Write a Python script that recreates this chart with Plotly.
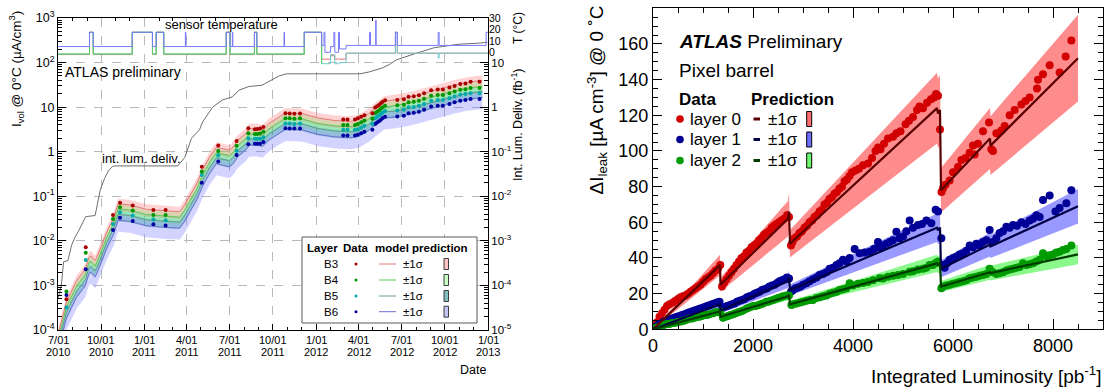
import pandas as pd
import plotly.graph_objects as go

W, H = 1108, 390
FONT = "Liberation Sans, Arial, Helvetica, sans-serif"


def px(x):
    return x / W


def py(y):
    return 1 - y / H


# ---------------- LEFT PANEL DATA ----------------
L_MODEL_DATES = ["2010-07-01", "2010-07-19", "2010-08-10", "2010-08-28", "2010-09-05", "2010-09-09",
                 "2010-09-18", "2010-09-26", "2010-10-13", "2010-10-27", "2010-11-06", "2010-11-30",
                 "2011-01-05", "2011-02-15", "2011-03-17", "2011-03-28", "2011-04-11", "2011-04-22",
                 "2011-05-06", "2011-05-20", "2011-06-03", "2011-06-20", "2011-07-01", "2011-07-11",
                 "2011-07-18", "2011-08-05", "2011-08-12", "2011-08-28", "2011-09-09", "2011-09-23",
                 "2011-10-14", "2011-10-28", "2011-12-02", "2012-01-05", "2012-02-10", "2012-03-15",
                 "2012-04-01", "2012-04-22", "2012-05-05", "2012-05-25", "2012-06-15", "2012-07-21",
                 "2012-08-18", "2012-09-22", "2012-10-20", "2012-11-17", "2012-12-20"]
B3_MODEL = [8e-5, 4.3e-4, 1.3e-3, 2.3e-3, 4.3e-3, 4.6e-3, 3.6e-3, 5.5e-3, 0.016, 0.032, 0.068, 0.064,
            0.051, 0.047, 0.045, 0.065, 0.12, 0.19, 0.42, 0.77, 1.25, 1.15, 1.08, 1.35, 1.8, 2.6, 3.3,
            3.3, 3.1, 4.3, 6.1, 7.4, 7.2, 5.7, 5.0, 4.8, 5.2, 7.2, 9.4, 13.5, 14.5, 17, 20.5, 26, 31, 36, 40]
B4_MODEL = [6.1e-5, 3.3e-4, 9.9e-4, 1.75e-3, 3.3e-3, 3.5e-3, 2.7e-3, 4.2e-3, 0.0122, 0.0243, 0.052, 0.049,
            0.039, 0.036, 0.034, 0.049, 0.091, 0.144, 0.32, 0.585, 0.95, 0.87, 0.82, 1.03, 1.37, 1.98, 2.5,
            2.5, 2.36, 3.27, 4.64, 5.6, 5.47, 4.33, 3.8, 3.65, 3.95, 5.4, 7.0, 10.0, 10.8, 12.6, 15.2, 19.2,
            23, 26.6, 29.6]
B5_MODEL = [4.6e-5, 2.5e-4, 7.5e-4, 1.33e-3, 2.5e-3, 2.67e-3, 2.1e-3, 3.2e-3, 9.3e-3, 0.0186, 0.039, 0.037,
            0.0296, 0.0273, 0.026, 0.0377, 0.07, 0.11, 0.244, 0.45, 0.725, 0.667, 0.626, 0.78, 1.04, 1.5,
            1.91, 1.91, 1.8, 2.5, 3.54, 4.3, 4.18, 3.3, 2.9, 2.78, 3.0, 4.1, 5.3, 7.8, 8.1, 9.5, 11.4, 14.4,
            17.3, 20.2, 22.4]
B6_MODEL = [3.4e-5, 1.85e-4, 5.6e-4, 9.9e-4, 1.85e-3, 1.98e-3, 1.55e-3, 2.4e-3, 6.9e-3, 0.0138, 0.029,
            0.0275, 0.022, 0.020, 0.0194, 0.028, 0.052, 0.082, 0.18, 0.33, 0.54, 0.49, 0.46, 0.58, 0.77,
            1.12, 1.42, 1.42, 1.33, 1.85, 2.62, 3.18, 3.1, 2.45, 2.15, 2.06, 2.24, 3.0, 3.9, 5.7, 6.0, 7.0,
            8.5, 10.8, 12.9, 15.0, 16.6]
# relative +-1 sigma of the model prediction, per layer
B3_SIG, B4_SIG, B5_SIG, B6_SIG = 0.30, 0.28, 0.30, 0.45

L_DATA_DATES = ["2010-07-19", "2010-08-29", "2010-10-26", "2010-11-10", "2010-12-07", "2011-01-20",
                "2011-02-15", "2011-05-03", "2011-06-07", "2011-07-16", "2011-08-10", "2011-08-24",
                "2011-08-29", "2011-09-04", "2011-09-11", "2011-10-28", "2011-11-06", "2011-11-16",
                "2011-11-28", "2012-02-28", "2012-03-08", "2012-03-24", "2012-03-30", "2012-04-06",
                "2012-04-13", "2012-04-30", "2012-05-06", "2012-05-10", "2012-05-14", "2012-05-18",
                "2012-05-22", "2012-05-27", "2012-06-22", "2012-07-06", "2012-07-16", "2012-07-27",
                "2012-08-07", "2012-08-18", "2012-09-02", "2012-09-16", "2012-09-27", "2012-10-11",
                "2012-10-22", "2012-11-03", "2012-11-14", "2012-11-25", "2012-12-14"]
B3_DATA = [4.9e-4, 7.2e-3, 0.038, 0.072, 0.062, 0.049, 0.049, 0.46, 1.37, 1.74, 3.35, 3.2, 3.25, 3.3, 3.6,
           7.3, 7.2, 7.1, 7.2, 5.3, 5.3, 5.3, 5.6, 6.1, 6.6, 7.3, 9.8, 10.5, 11.2, 12.2, 13.2, 14.2, 14.5,
           15.0, 17.0, 17.5, 18.5, 20.4, 24.0, 25.0, 25.0, 27.5, 30.0, 33.0, 34.0, 37.0, 37.0]
B4_DATA = [7.3e-4, 5.4e-3, 0.031, 0.0565, 0.048, 0.038, 0.038, 0.36, 1.04, 1.36, 2.6, 2.5, 2.5, 2.55, 2.8,
           5.6, 5.6, 5.5, 5.6, 4.0, 4.0, 4.0, 4.2, 4.6, 5.0, 5.5, 7.4, 7.9, 8.4, 9.2, 10.0, 10.7, 11.0, 11.3,
           12.8, 13.2, 14.0, 15.4, 18.0, 18.8, 18.8, 20.5, 22.3, 24.5, 25.2, 27.0, 27.0]
B5_DATA = [3.2e-4, 3.7e-3, 0.024, 0.0436, 0.037, 0.030, 0.029, 0.30, 0.83, 1.05, 2.0, 1.95, 1.95, 1.95, 2.1,
           4.3, 4.3, 4.2, 4.3, 3.1, 3.1, 3.1, 3.2, 3.5, 3.8, 4.2, 5.7, 6.1, 6.5, 7.0, 7.6, 8.2, 8.4, 8.7, 9.9,
           10.1, 10.7, 11.8, 13.9, 14.5, 14.5, 15.9, 17.3, 19.0, 19.6, 20.4, 20.4]
B6_DATA = [6.1e-4, 2.3e-3, 0.0175, 0.033, 0.028, 0.0236, 0.022, 0.20, 0.60, 0.84, 1.47, 1.5, 1.5, 1.5, 1.65,
           3.35, 3.3, 3.3, 3.3, 2.3, 2.3, 2.3, 2.4, 2.6, 2.8, 3.1, 4.2, 4.5, 4.8, 5.2, 5.7, 6.1, 6.2, 6.4, 7.3,
           7.5, 7.9, 8.7, 10.3, 10.7, 10.7, 11.8, 12.8, 14.0, 14.4, 15.2, 15.2]

LUMI_DATES = ["2010-07-01", "2010-07-08", "2010-07-13", "2010-07-22", "2010-07-30", "2010-08-06",
              "2010-08-13", "2010-08-22", "2010-08-29", "2010-09-18", "2010-09-24", "2010-09-29",
              "2010-10-08", "2010-10-16", "2010-10-25", "2010-10-31", "2011-03-13", "2011-03-28",
              "2011-04-11", "2011-04-28", "2011-05-05", "2011-05-26", "2011-06-16", "2011-07-07",
              "2011-07-21", "2011-08-11", "2011-09-08", "2011-09-29", "2011-10-14", "2011-10-30",
              "2012-04-04", "2012-04-24", "2012-05-20", "2012-06-05", "2012-06-20", "2012-07-27",
              "2012-09-08", "2012-10-10", "2012-11-03", "2012-12-08", "2012-12-31"]
LUMI_FB = [5e-5, 1e-4, 3.4e-4, 3.6e-4, 8e-4, 1.2e-3, 1.6e-3, 2.5e-3, 3.5e-3, 3.7e-3, 7e-3, 0.014, 0.025,
           0.037, 0.047, 0.048, 0.048, 0.075, 0.2, 0.31, 0.47, 1.0, 1.45, 1.7, 2.4, 2.9, 3.1, 4.1, 5.0, 5.6,
           5.6, 6.2, 7.5, 9, 11.5, 15.5, 21.5, 24, 26, 27, 28.5]

T_DATES = ["2010-07-01", "2010-09-06", "2010-09-14", "2010-12-06", "2011-01-18", "2011-01-26",
           "2011-02-11", "2011-03-29", "2011-03-30", "2011-06-24", "2011-07-02", "2011-07-07",
           "2011-07-08", "2011-08-23", "2011-08-28", "2011-10-25", "2011-10-26", "2011-12-07",
           "2012-01-13", "2012-01-18", "2012-01-20", "2012-02-01", "2012-02-08", "2012-02-10",
           "2012-02-18", "2012-02-20", "2012-03-05", "2012-04-24", "2012-04-26", "2012-05-07",
           "2012-05-08", "2012-06-18", "2012-06-22", "2012-09-17", "2012-09-19", "2012-12-28",
           "2013-01-01"]
T_B6 = [5, 17.5, 5, 17.5, 5, 17.5, 5, 17.5, 5, 17.5, 5, 17.5, 5, 17.5, 5, 17.5, 5, 17.5, 6, 17.5, 0, 5,
        17.5, 0, 17.5, 3, 6, 17.5, 6, 28, 6, 17.5, 6, 17.5, 6, 17.5, 17.5]
T_B3 = [-2, 17.5, -2, 17.5, -2, 17.5, -2, -2, -2, 17.5, -2, -2, -2, 17.5, -2, -2, -2, 17.5, -6, -6, -6, -3,
        -3, -6, -6, -6, -0.8, -0.8, -0.8, -0.8, -0.8, 17.5, -0.8, -0.8, -0.8, -0.8, -0.8]
T_B4 = [-1.5, 17.5, -1.5, 17.5, -1.5, 17.5, -1.5, -1.5, -1.5, 17.5, -1.5, -1.5, -1.5, 17.5, -1.5, -1.5,
        -1.5, 17.5, -10] + [None] * 18
T_B5 = [-1.5, 17.5, -1.5, 17.5, -1.5, 17.5, -1.5, -1.5, -1.5, 17.5, -1.5, -1.5, -1.5, 17.5, -1.5, -1.5,
        -1.5, 17.5, -10, -10, -10, -2, -2, -10, -10, -9, -0.8, -0.8, -0.8, -0.8, -0.8, 17.5, -0.8, -5, -0.8,
        -0.8, -0.8]

TICK_DATES = ["2010-07-01", "2010-10-01", "2011-01-01", "2011-04-01", "2011-07-01", "2011-10-01",
              "2012-01-01", "2012-04-01", "2012-07-01", "2012-10-01", "2013-01-01"]
TICK_MD = ["7/01", "10/01", "1/01", "4/01", "7/01", "10/01", "1/01", "4/01", "7/01", "10/01", "1/01"]
TICK_YR = ["2010", "2010", "2011", "2011", "2011", "2011", "2012", "2012", "2012", "2012", "2013"]

# ---------------- RIGHT PANEL DATA ----------------
R0_X = [30, 80, 130, 180, 230, 280, 330, 400, 450, 500, 550, 600, 650, 700, 750, 800, 850, 900, 950, 1000,
        1050, 1100, 1150, 1200, 1250, 1300, 1345,
        1380, 1420, 1470, 1520, 1570, 1620, 1670, 1720, 1770, 1820, 1870, 1920, 1970, 2020, 2070, 2120,
        2170, 2220, 2270, 2320, 2370, 2420, 2470, 2520, 2570, 2620, 2680, 2720,
        2760, 2790, 2830, 2880, 2930, 2980, 3030, 3080, 3130, 3180, 3230, 3280, 3330, 3380, 3430, 3480,
        3530, 3580, 3630, 3680, 3730, 3780, 3830, 3880, 3930, 3980, 4050, 4120, 4200, 4300, 4380, 4450,
        4500, 4550, 4620, 4700, 4800, 4870, 4950, 5050, 5120, 5200, 5280, 5330, 5400, 5480, 5560, 5620,
        5660, 5700, 5740,
        5770, 5800, 5850, 5933, 6000, 6100, 6167, 6250, 6333, 6400, 6433, 6500, 6600, 6720, 6767, 6800,
        6867, 6967, 7033, 7133, 7233, 7367, 7450, 7533, 7680, 7700, 7800, 7933, 8133, 8253, 8367]
R0_Y = [2, 4, 7, 9, 11, 13, 14, 15, 16, 17, 18, 18.5, 19, 20, 21, 22, 23, 24, 25, 26.5, 28, 29, 30, 31.5, 33,
        34, 36,
        24, 26, 28, 30, 32, 34, 36, 38, 40, 41, 43, 44, 46, 47, 48, 50, 51, 53, 54, 55, 57, 58, 59, 60, 61,
        62, 64, 63,
        47, 49, 51, 52, 54, 55, 57, 58, 60, 61, 63, 64, 66, 67, 70, 71, 73, 74, 76, 77, 79, 80, 83, 84, 86,
        88, 89, 90, 92, 93, 96, 100, 102, 101, 104, 107, 108, 110, 111, 115, 117, 119, 123, 125, 124, 127,
        129, 130, 132, 131, 112,
        77, 79, 81, 83.5, 88, 91, 95, 96, 99, 103, 98, 104, 111, 116, 101, 100, 110, 111.5, 114, 120, 123,
        126, 128, 130, 135, 140, 143, 148, 144, 153, 162]
R1_X = [30, 80, 130, 180, 230, 280, 330, 380, 430, 480, 530, 580, 630, 680, 730, 780, 830, 880, 930, 980,
        1030, 1080, 1130, 1180, 1230, 1280, 1330,
        1380, 1430, 1480, 1530, 1580, 1630, 1680, 1730, 1780, 1830, 1880, 1930, 1980, 2030, 2080, 2130,
        2180, 2230, 2280, 2330, 2380, 2430, 2480, 2530, 2580, 2630, 2680, 2720,
        2760, 2800, 2850, 2900, 2950, 3000, 3067, 3130, 3200, 3270, 3333, 3400, 3470, 3533, 3600, 3670,
        3730, 3800, 3870, 3933, 4033, 4133, 4233, 4333, 4420, 4500, 4533, 4600, 4667, 4733, 4800, 4867,
        4933, 5000, 5067, 5133, 5200, 5300, 5380, 5467, 5567, 5653, 5700, 5767,
        5800, 5833, 5880, 5933, 6000, 6067, 6133, 6200, 6267, 6333, 6400, 6467, 6533, 6600, 6667, 6733,
        6800, 6867, 6933, 7000, 7067, 7133, 7200, 7280, 7367, 7450, 7533, 7600, 7667, 7733, 7800, 7933,
        8050, 8133, 8267, 8367]
R1_Y = [1, 2, 3, 3.5, 4.5, 5, 5.5, 6, 6.5, 7, 7.5, 8, 8.5, 9, 9.5, 10, 10.5, 11, 11.5, 12, 12.5, 13, 13.5,
        14, 14.5, 15, 15.5,
        12, 12.5, 13, 13.5, 14, 14.5, 15.5, 16, 16.5, 17, 18, 18.5, 19, 20, 20.5, 21, 22, 22.5, 23, 24,
        24.5, 25, 26, 27, 27.5, 28, 29, 28.5,
        21, 22, 23, 23.5, 24, 25, 25.8, 27, 28, 29, 30.5, 31, 32, 34, 34.5, 36, 37, 39, 38, 40, 45, 42.6,
        43, 43.5, 45, 49, 46, 47, 48, 49, 50, 54.7, 51, 52, 55, 61, 57, 58.5, 59, 61, 59.5, 67, 66, 51,
        36, 34.5, 37, 39, 40, 40.7, 42, 42.6, 44, 47, 46, 48, 47, 49, 50, 55.7, 49, 51, 54, 55, 57.5, 57,
        58.5, 58, 60, 59, 61, 62, 64, 63, 72.5, 75, 66, 68, 70.7, 78]
R2_X = [30, 80, 130, 180, 230, 280, 330, 380, 430, 480, 533, 580, 630, 680, 730, 780, 830, 880, 930, 980,
        1030, 1080, 1130, 1200, 1250, 1300, 1345,
        1400, 1450, 1500, 1550, 1600, 1650, 1700, 1750, 1800, 1867, 1900, 1950, 2000, 2050, 2100, 2150,
        2200, 2267, 2300, 2350, 2400, 2450, 2500, 2550, 2600, 2667, 2720,
        2767, 2800, 2870, 2940, 3000, 3070, 3140, 3200, 3270, 3340, 3400, 3470, 3533, 3600, 3670, 3733,
        3800, 3870, 3933, 4000, 4100, 4200, 4300, 4400, 4533, 4600, 4700, 4800, 4900, 5000, 5133, 5200,
        5300, 5400, 5467, 5533, 5600, 5650, 5700,
        5767, 5800, 5867, 5933, 6000, 6067, 6133, 6200, 6267, 6333, 6400, 6467, 6533, 6600, 6667, 6733,
        6800, 6867, 6933, 7000, 7067, 7133, 7200, 7267, 7333, 7400, 7467, 7533, 7600, 7667, 7733, 7800,
        7867, 7933, 8000, 8067, 8133, 8200, 8267, 8367]
R2_Y = [0.5, 1, 1.5, 2, 2.5, 3, 3, 3.5, 3.5, 4, 4.3, 4.5, 5, 5.5, 6, 6, 6.5, 7, 7, 7.5, 8, 8, 8.5, 9, 9.5,
        9.5, 10,
        6.5, 7, 7.5, 8, 8.5, 9, 9.5, 10, 10.5, 11.5, 12, 12.5, 13, 13, 13.5, 14, 14.5, 15.5, 15.5, 16, 16.5,
        17, 17.5, 18, 18.5, 19, 19,
        13.6, 14, 14.5, 15, 15.5, 16, 16.5, 16.5, 17.5, 18, 18.5, 19, 20, 20.5, 21, 22, 22.5, 23, 25.8,
        24.5, 25.5, 26, 26.5, 27.5, 28.6, 28.5, 29.5, 30, 30.5, 31, 32.3, 32.5, 33.5, 34, 34.5, 36, 36, 37,
        38,
        23, 24, 24.5, 25, 25.5, 26, 26.5, 27, 27.5, 28.6, 29, 29.5, 30, 30.5, 31, 34, 32, 31, 31.5, 32, 33,
        33.5, 34, 34.5, 35, 37, 36, 36.5, 37, 38, 39, 42.6, 41, 41.5, 42, 43, 43.5, 44.5, 45, 47]

P0_X = [0, 1340, 1350, 2700, 2720, 2740, 5680, 5700, 5740, 5760, 6740, 6750, 8500]
P0_Y = [0, 36, 25, 62, 66, 48, 124, 121, 123, 78, 107, 103, 152]
P1_X = [0, 1340, 1350, 2700, 2720, 2740, 5680, 5700, 5740, 5760, 6740, 6750, 8500]
P1_Y = [0, 14, 10.5, 27, 29, 22, 57, 55.5, 57, 34, 47.5, 46.5, 69]
P2_X = [0, 1340, 1350, 2700, 2720, 2740, 5680, 5700, 5740, 5760, 6740, 6750, 8500]
P2_Y = [0, 10, 7, 18.5, 19.5, 14, 37, 36, 37, 24, 32, 31.5, 42]
P0_SIG, P1_SIG, P2_SIG = 0.16, 0.14, 0.13

fig = go.Figure()


def band_poly(xs, ys, sig):
    up = [v * (1 + sig) for v in ys]
    lo = [v * (1 - sig) for v in ys]
    return list(xs) + list(xs)[::-1], up + lo[::-1]


# ---- left: bands, model lines, data
left_layers = [
    ("B6", B6_MODEL, B6_DATA, B6_SIG, "rgba(110,110,255,0.30)", "rgb(110,110,210)", "rgb(0,0,160)"),
    ("B5", B5_MODEL, B5_DATA, B5_SIG, "rgba(0,140,140,0.30)", "rgb(100,150,150)", "rgb(0,170,170)"),
    ("B4", B4_MODEL, B4_DATA, B4_SIG, "rgba(110,255,110,0.35)", "rgb(90,200,90)", "rgb(0,150,0)"),
    ("B3", B3_MODEL, B3_DATA, B3_SIG, "rgba(255,110,110,0.30)", "rgb(225,120,120)", "rgb(170,0,0)"),
]
for name, mod, dat, sig, bc, lc, dc in left_layers:
    bx, by = band_poly(L_MODEL_DATES, mod, sig)
    fig.add_trace(go.Scatter(x=bx, y=by, fill="toself", fillcolor=bc, line=dict(width=0), mode="lines",
                             xaxis="x", yaxis="y", hoverinfo="skip", showlegend=False))
for name, mod, dat, sig, bc, lc, dc in left_layers:
    fig.add_trace(go.Scatter(x=L_MODEL_DATES, y=mod, mode="lines", line=dict(color=lc, width=1),
                             xaxis="x", yaxis="y", showlegend=False))
for name, mod, dat, sig, bc, lc, dc in left_layers:
    fig.add_trace(go.Scatter(x=L_DATA_DATES, y=dat, mode="markers", marker=dict(size=4, color=dc),
                             xaxis="x", yaxis="y", showlegend=False))

# luminosity (right log axis)
fig.add_trace(go.Scatter(x=LUMI_DATES, y=LUMI_FB, mode="lines", line=dict(color="rgb(110,110,110)", width=1),
                         xaxis="x", yaxis="y2", showlegend=False))

# temperatures
for vals, col in [(T_B3, "rgb(225,110,110)"), (T_B5, "rgb(110,205,205)"), (T_B4, "rgb(90,205,90)"),
                  (T_B6, "rgb(120,120,255)")]:
    fig.add_trace(go.Scatter(x=T_DATES, y=vals, mode="lines", line=dict(color=col, width=1, shape="hv"),
                             xaxis="x", yaxis="y3", connectgaps=False, showlegend=False))

# ---- right panel
right_layers = [
    (P0_X, P0_Y, P0_SIG, R0_X, R0_Y, "rgba(255,70,70,0.62)", "rgb(90,0,0)", "rgb(210,0,0)"),
    (P1_X, P1_Y, P1_SIG, R1_X, R1_Y, "rgba(90,90,255,0.62)", "rgb(0,0,70)", "rgb(0,0,150)"),
    (P2_X, P2_Y, P2_SIG, R2_X, R2_Y, "rgba(90,245,90,0.70)", "rgb(0,60,0)", "rgb(0,155,0)"),
]
for pxs, pys, sig, dx, dy, bc, lc, dc in right_layers:
    bx, by = band_poly(pxs, pys, sig)
    fig.add_trace(go.Scatter(x=bx, y=by, fill="toself", fillcolor=bc, line=dict(width=0), mode="lines",
                             xaxis="x2", yaxis="y4", hoverinfo="skip", showlegend=False))
for pxs, pys, sig, dx, dy, bc, lc, dc in right_layers:
    fig.add_trace(go.Scatter(x=dx, y=dy, mode="markers", marker=dict(size=8, color=dc),
                             error_y=dict(type="constant", value=2.0, thickness=1, width=0, color=dc),
                             xaxis="x2", yaxis="y4", showlegend=False))
for pxs, pys, sig, dx, dy, bc, lc, dc in right_layers:
    fig.add_trace(go.Scatter(x=pxs, y=pys, mode="lines", line=dict(color=lc, width=2.2),
                             xaxis="x2", yaxis="y4", showlegend=False))

# ---------------- axes ----------------
MONTHS = pd.date_range("2010-07-01", "2013-01-01", freq="MS").strftime("%Y-%m-%d").tolist()
DEC_L = [10.0 ** e for e in range(-4, 4)]
DEC_L_TXT = ["10<sup>-4</sup>", "10<sup>-3</sup>", "10<sup>-2</sup>", "10<sup>-1</sup>", "1", "10",
             "10<sup>2</sup>", "10<sup>3</sup>"]
MIN_L = [m * 10.0 ** e for e in range(-4, 3) for m in range(2, 10)]
DEC_R = [10.0 ** e for e in range(-5, 2)]
DEC_R_TXT = ["10<sup>-5</sup>", "10<sup>-4</sup>", "10<sup>-3</sup>", "10<sup>-2</sup>", "10<sup>-1</sup>",
             "1", "10"]
MIN_R = [m * 10.0 ** e for e in range(-5, 1) for m in range(2, 10)]

GRID = "rgb(185,185,185)"
fig.update_layout(
    template="none",
    width=W, height=H, margin=dict(l=0, r=0, t=0, b=0, pad=0), autosize=False,
    paper_bgcolor="white", plot_bgcolor="rgba(0,0,0,0)", showlegend=False,
    font=dict(family=FONT, color="black", size=12),
    xaxis=dict(domain=[px(58), px(488)], type="date", range=["2010-07-01", "2013-01-01"], anchor="y",
               automargin=False,
               tickmode="array", tickvals=TICK_DATES, showticklabels=False, ticks="inside", ticklen=6,
               tickcolor="black", mirror="ticks", showline=True, linecolor="black", linewidth=1,
               showgrid=True, gridcolor=GRID, griddash="dash", gridwidth=1, zeroline=False,
               minor=dict(tickmode="array", tickvals=MONTHS, ticks="inside", ticklen=3, tickcolor="black",
                          showgrid=False)),
    yaxis=dict(domain=[py(330), py(18)], type="log", range=[-4, 3], anchor="x", tickmode="array",
               automargin=False,
               tickvals=DEC_L, ticktext=DEC_L_TXT, ticks="inside", ticklen=8, tickcolor="black",
               showline=True, linecolor="black", linewidth=1, showgrid=True, gridcolor=GRID,
               griddash="dash", zeroline=False, tickfont=dict(size=12.5),
               minor=dict(tickmode="array", tickvals=MIN_L, ticks="inside", ticklen=4, tickcolor="black",
                          showgrid=False)),
    yaxis2=dict(overlaying="y", side="right", anchor="x", type="log", range=[-5, 2], tickmode="array",
                automargin=False,
                tickvals=DEC_R, ticktext=DEC_R_TXT, ticks="inside", ticklen=8, tickcolor="black",
                showline=True, linecolor="black", linewidth=1, showgrid=False, zeroline=False,
                tickfont=dict(size=11.5),
                minor=dict(tickmode="array", tickvals=MIN_R, ticks="inside", ticklen=4, tickcolor="black",
                           showgrid=False)),
    yaxis3=dict(domain=[py(66), py(18)], anchor="x", side="right", range=[-12, 30], tickmode="array",
                automargin=False,
                tickvals=[0, 10, 20, 30], ticks="", showgrid=False, zeroline=False, showline=False,
                tickfont=dict(size=10.5)),
    xaxis2=dict(domain=[px(653), px(1103)], anchor="y4", range=[0, 9000], tickmode="array",
                automargin=False,
                tickvals=[0, 2000, 4000, 6000, 8000], ticks="inside", ticklen=10, tickcolor="black",
                mirror="ticks", showline=True, linecolor="black", linewidth=1, showgrid=False,
                zeroline=False, tickfont=dict(size=18),
                minor=dict(dtick=500, tick0=0, ticks="inside", ticklen=5, tickcolor="black")),
    yaxis4=dict(domain=[py(329.3), py(8.3)], anchor="x2", range=[0, 180], dtick=20, tick0=0, ticks="inside",
                automargin=False,
                ticklen=9, tickcolor="black", mirror="ticks", showline=True, linecolor="black", linewidth=1,
                showgrid=False, zeroline=False, tickfont=dict(size=18),
                minor=dict(dtick=5, tick0=0, ticks="inside", ticklen=5, tickcolor="black")),
)

ann = []
shapes = []


def text(x, y, s, size, xanchor="center", yanchor="middle", angle=0, color="black"):
    ann.append(dict(x=px(x), y=py(y), xref="paper", yref="paper", text=s, showarrow=False,
                    xanchor=xanchor, yanchor=yanchor, textangle=angle,
                    font=dict(size=size, family=FONT, color=color)))


# left date tick labels (two lines each)
for d, md, yr in zip(TICK_DATES, TICK_MD, TICK_YR):
    ann.append(dict(x=d, y=py(340), xref="x", yref="paper", text=md, showarrow=False,
                    xanchor="center", yanchor="middle", font=dict(size=11, family=FONT)))
    ann.append(dict(x=d, y=py(352), xref="x", yref="paper", text=yr, showarrow=False,
                    xanchor="center", yanchor="middle", font=dict(size=11, family=FONT)))

text(488, 370, "Date", 12.5, xanchor="right")
text(16, 9, "I<sub>vol</sub> @ 0°C (µA/cm<sup>3</sup>)", 13.5, yanchor="top", angle=-90)
text(517, 125, "Int. Lum. Deliv. (fb<sup>-1</sup>)", 12.5, angle=-90)
text(518, 28, "T (°C)", 12, angle=-90)
text(221, 24, "sensor temperature", 13)
text(63, 72, "ATLAS preliminary", 14, xanchor="left")
text(100, 158, "int. lum. deliv.", 13, xanchor="left")

# left legend
shapes.append(dict(type="rect", xref="paper", yref="paper", x0=px(302), x1=px(477), y0=py(323), y1=py(237),
                   fillcolor="white", line=dict(color="rgb(90,90,90)", width=1), layer="above"))
text(322.5, 248, "<b>Layer</b>", 11.5)
text(355.5, 248, "<b>Data</b>", 11.5)
text(422, 248, "<b>model prediction</b>", 11.5)
leg_rows = [("B3", 264, "rgb(170,0,0)", "rgb(225,120,120)", "rgb(255,195,195)"),
            ("B4", 280, "rgb(0,150,0)", "rgb(90,200,90)", "rgb(200,255,200)"),
            ("B5", 296, "rgb(0,170,170)", "rgb(100,150,150)", "rgb(130,190,190)"),
            ("B6", 311.7, "rgb(0,0,160)", "rgb(110,110,210)", "rgb(195,195,245)")]
for lab, yy, dc, lc, fc in leg_rows:
    text(331, yy, lab, 11.5)
    shapes.append(dict(type="circle", xref="paper", yref="paper", x0=px(354.5), x1=px(357.5),
                       y0=py(yy + 1.5), y1=py(yy - 1.5), fillcolor=dc, line=dict(width=0), layer="above"))
    shapes.append(dict(type="line", xref="paper", yref="paper", x0=px(379), x1=px(396), y0=py(yy), y1=py(yy),
                       line=dict(color=lc, width=1), layer="above"))
    text(413, yy, "±1σ", 11.5)
    shapes.append(dict(type="rect", xref="paper", yref="paper", x0=px(444), x1=px(448.5), y0=py(yy + 5.5),
                       y1=py(yy - 5.5), fillcolor=fc, line=dict(color="rgb(60,60,60)", width=1),
                       layer="above"))

# right panel texts
text(597, 4, "ΔI<sub>leak</sub> [µA cm<sup>-3</sup>] @ 0 ˚C", 19, yanchor="top", angle=-90)
text(1103, 375, "Integrated Luminosity [pb<sup>-1</sup>]", 19, xanchor="right")
text(676.5, 41.7, "<b><i>ATLAS</i></b> Preliminary", 19, xanchor="left")
text(676.5, 70, "Pixel barrel", 19, xanchor="left")
text(676.5, 99.3, "<b>Data</b>", 17, xanchor="left")
text(749, 99.3, "<b>Prediction</b>", 17, xanchor="left")
r_rows = [("layer 0", 119, "rgb(210,0,0)", "rgb(90,0,0)", "rgb(255,110,110)"),
          ("layer 1", 139.5, "rgb(0,0,150)", "rgb(0,0,70)", "rgb(110,110,255)"),
          ("layer 2", 160.5, "rgb(0,155,0)", "rgb(0,60,0)", "rgb(110,250,110)")]
for lab, yy, dc, lc, fc in r_rows:
    shapes.append(dict(type="circle", xref="paper", yref="paper", x0=px(676.2), x1=px(683.8),
                       y0=py(yy + 3.8), y1=py(yy - 3.8), fillcolor=dc, line=dict(width=0), layer="above"))
    text(688, yy, lab, 17, xanchor="left")
    shapes.append(dict(type="line", xref="paper", yref="paper", x0=px(753.5), x1=px(760), y0=py(yy), y1=py(yy),
                       line=dict(color=lc, width=3), layer="above"))
    text(766, yy, "±1σ", 17, xanchor="left")
    shapes.append(dict(type="rect", xref="paper", yref="paper", x0=px(806.7), x1=px(811.7), y0=py(yy + 7.5),
                       y1=py(yy - 7.5), fillcolor=fc, line=dict(color="black", width=1), layer="above"))

fig.update_layout(annotations=ann, shapes=shapes)
fig.write_html("out.html",
               config={"displayModeBar": False, "staticPlot": True},
               post_script="document.body.style.margin='0';document.body.style.padding='0';"
                           "document.documentElement.style.margin='0';")
